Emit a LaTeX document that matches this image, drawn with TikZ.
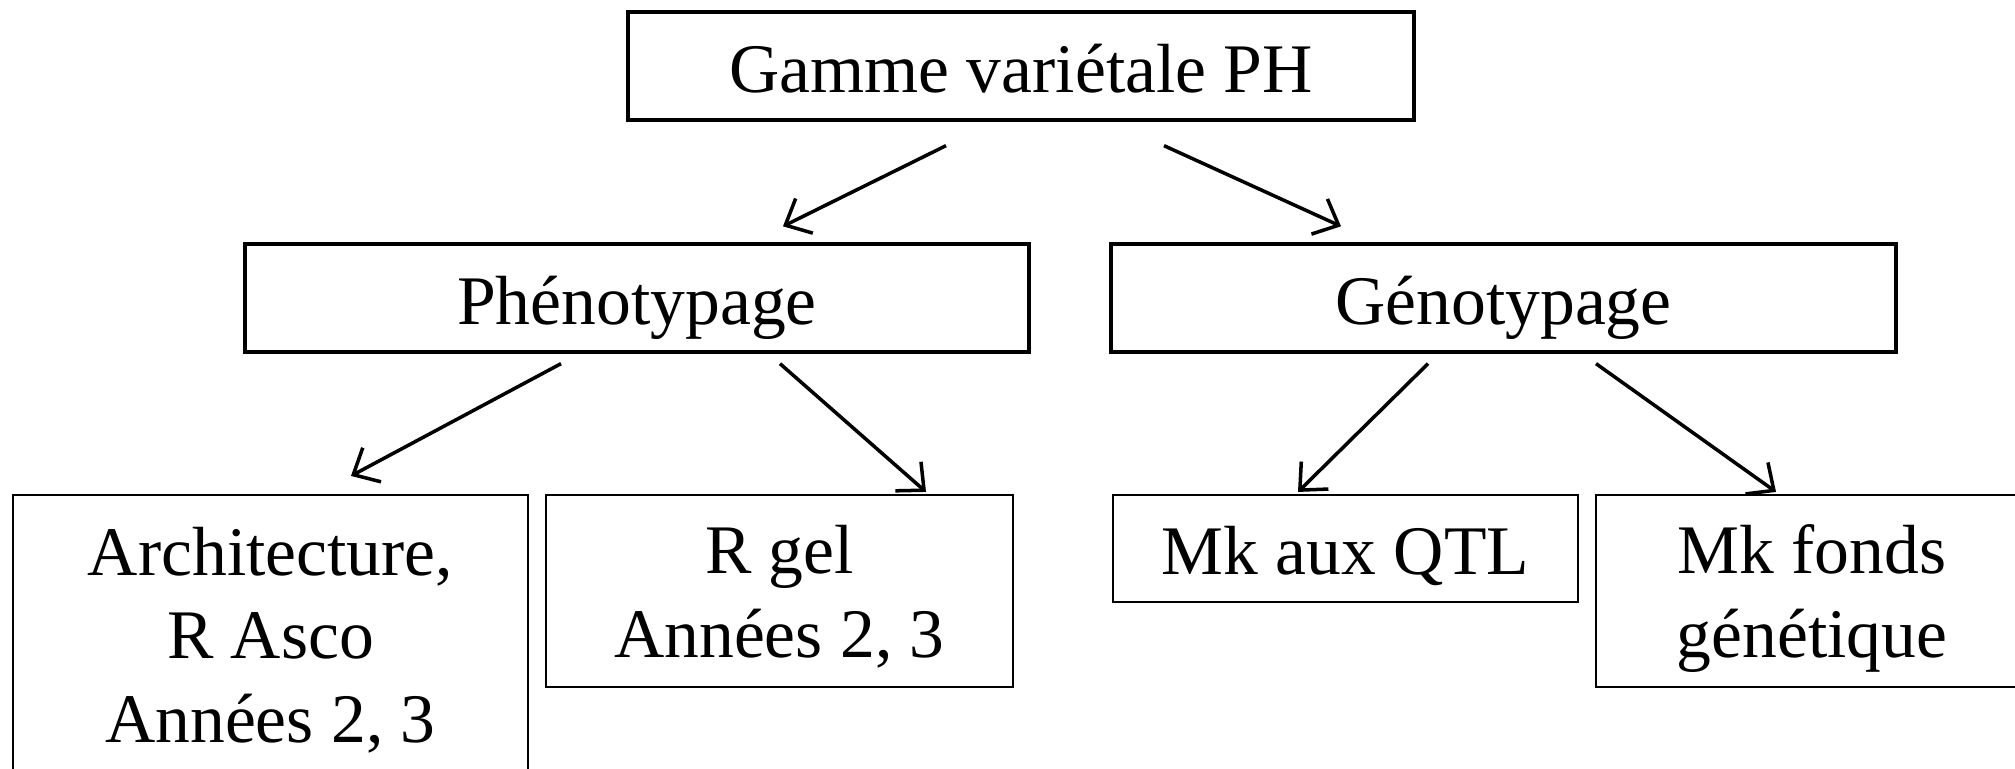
\documentclass[tikz,border=0pt]{standalone}
\usepackage{fontspec}
\setmainfont{Liberation Serif}
\usetikzlibrary{arrows.meta}
\tikzset{
  boite/.style={draw,line width=0.95pt,align=center,inner sep=0pt,
    font=\fontsize{19.8}{23.9}\selectfont,text depth=0pt},
  petite/.style={boite,line width=0.6pt},
  fleche/.style={line width=1pt,-{Straight Barb[length=6pt,width=11pt]}}
}
\begin{document}
\begin{tikzpicture}[y=-1cm]
\useasboundingbox (0,0) rectangle (20.15,7.69);
\clip (0,0) rectangle (20.15,7.69);
% niveau 1
\node[boite,minimum width=7.86cm,minimum height=1.08cm,text height=0.54cm] (gamme) at (10.21,0.66) {Gamme variétale PH};
% niveau 2
\node[boite,minimum width=7.84cm,minimum height=1.08cm,text height=0.54cm] (pheno) at (6.37,2.98) {Phénotypage};
\node[boite,minimum width=7.85cm,minimum height=1.08cm,text height=0.54cm] (geno) at (15.035,2.98) {Génotypage};
% niveau 3
\node[petite,minimum width=5.15cm,minimum height=2.90cm,text height=2.06cm] (archi) at (2.705,6.40) {Architecture,\\R Asco\\Années 2, 3};
\node[petite,minimum width=4.67cm,minimum height=1.92cm,text height=1.34cm] (rgel) at (7.795,5.91) {R gel\\Années 2, 3};
\node[petite,minimum width=4.65cm,minimum height=1.07cm,text height=0.53cm] (qtl) at (13.455,5.485) {Mk aux QTL};
\node[petite,minimum width=4.32cm,minimum height=1.92cm,text height=1.34cm] (fonds) at (18.12,5.91) {Mk fonds\\génétique};
% fleches
\draw[fleche] ([xshift=-0.75cm,yshift=-0.24cm]gamme.south) -- ([xshift=1.46cm,yshift=0.16cm]pheno.north);
\draw[fleche] ([xshift=1.43cm,yshift=-0.24cm]gamme.south) -- ([xshift=-1.625cm,yshift=0.16cm]geno.north);
\draw[fleche] ([xshift=-0.76cm,yshift=-0.10cm]pheno.south) -- ([xshift=0.805cm,yshift=0.18cm]archi.north);
\draw[fleche] ([xshift=1.43cm,yshift=-0.10cm]pheno.south) -- ([xshift=1.465cm,yshift=0.02cm]rgel.north);
\draw[fleche] ([xshift=-0.755cm,yshift=-0.10cm]geno.south) -- ([xshift=-0.475cm,yshift=0.02cm]qtl.north);
\draw[fleche] ([xshift=0.925cm,yshift=-0.10cm]geno.south) -- ([xshift=-0.36cm,yshift=0.02cm]fonds.north);
\end{tikzpicture}
\end{document}
